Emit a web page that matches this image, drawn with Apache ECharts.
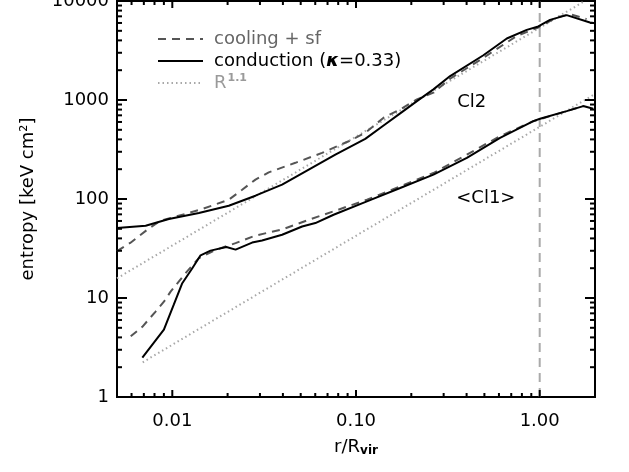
<!DOCTYPE html>
<html style="height: 100%">
<head>
<meta charset="utf-8">
<script src="https://cdn.jsdelivr.net/npm/echarts@6/dist/echarts.min.js"></script>
</head>
<body style="height: 100%; margin: 0; background: #ffffff">
<div id="container" style="width: 629px; height: 472px"></div>
<script>

// axis ranges and labels
var xRange = [0.005, 2];
var yRange = [1, 10000];
var xLabelVals = [0.01, 0.1, 1];
var yLabelVals = [1, 10, 100, 1000, 10000];
var xTickVals = [0.006, 0.007, 0.008, 0.009, 0.01, 0.02, 0.03, 0.04, 0.05, 0.06, 0.07, 0.08, 0.09,
                 0.1, 0.2, 0.3, 0.4, 0.5, 0.6, 0.7, 0.8, 0.9, 1];
var yTickVals = [2, 3, 4, 5, 6, 7, 8, 9, 10, 20, 30, 40, 50, 60, 70, 80, 90, 100,
                 200, 300, 400, 500, 600, 700, 800, 900, 1000, 2000, 3000, 4000, 5000, 6000, 7000, 8000, 9000];

// Cl2 profiles [r/Rvir, entropy]
var cl2Cond = [[0.005, 50.8], [0.00716, 53.6], [0.00958, 62.7], [0.01395, 72.1], [0.0203, 85.5], [0.02836, 108],
  [0.0396, 139.6], [0.0553, 198], [0.0772, 281], [0.1123, 405], [0.1413, 553], [0.174, 733], [0.2146, 975],
  [0.264, 1281], [0.3254, 1746], [0.4937, 2830], [0.662, 4180], [0.85, 5108], [0.9826, 5530], [1.138, 6450],
  [1.402, 7195], [1.877, 6070], [2.0, 5970]];
var cl2Cool = [[0.005, 29.8], [0.0059, 36], [0.0073, 48.9], [0.0086, 60.3], [0.0098, 64.2], [0.01456, 79.2],
  [0.0203, 98.4], [0.024, 124], [0.02836, 157], [0.0335, 186], [0.0468, 232], [0.0653, 292], [0.0912, 383],
  [0.1123, 466], [0.1413, 662], [0.174, 803], [0.2146, 1014], [0.264, 1186], [0.3254, 1644], [0.4937, 2670],
  [0.75, 4440], [0.9826, 5400], [1.237, 6820], [1.461, 7360], [1.8, 6555]];
var cl2Pow = [[0.005, 15.8], [1.76, 10000]];

// <Cl1> profiles
var cl1Cond = [[0.00687, 2.5], [0.009, 4.8], [0.0102, 8.6], [0.01133, 14.1], [0.01285, 20], [0.01425, 27],
  [0.01615, 30.1], [0.0197, 32.7], [0.0221, 30.8], [0.0272, 36.3], [0.0308, 38.1], [0.0396, 43.5], [0.0509, 52.8],
  [0.0601, 57.1], [0.0755, 69.3], [0.1147, 94.6], [0.174, 129], [0.264, 176], [0.4013, 260], [0.6083, 415],
  [0.923, 611], [1.004, 646], [1.402, 772], [1.726, 868], [1.956, 816]];
var cl1Cool = [[0.00594, 4.1], [0.00687, 5.12], [0.00811, 7.3], [0.009, 9.17], [0.00979, 11.6], [0.0118, 17.8],
  [0.01395, 25.3], [0.0172, 30.6], [0.0221, 35.8], [0.02836, 42.7], [0.0396, 49.2], [0.0553, 61.7], [0.0772, 76.1],
  [0.1147, 98.4], [0.174, 134], [0.264, 183], [0.4013, 281], [0.6083, 431], [0.923, 611], [1.402, 772], [1.726, 868]];
var cl1Pow = [[0.0069, 2.24], [2.0, 1150]];

var rvirLine = [[1, 1], [1, 10000]];
var clusterNames = ['Cl2', '<Cl1>'];
var clusterPos = [[0.427, 957], [0.509, 102]];

var FONT = 'DejaVu Sans';
var COOL = 'cooling + sf', COND = 'conduction (κ=0.33)', POW = 'R^1.1';

function isDecade(v) {
  var l = Math.log10(v);
  return Math.abs(l - Math.round(l)) < 1e-6;
}

var dom = document.getElementById('container');
var myChart = echarts.init(dom);

var coolStyle = { color: '#555555', width: 2, type: [8, 6] };
var condStyle = { color: '#000000', width: 2 };
var powStyle = { color: '#a8a8a8', width: 2, type: [1.5, 3] };

function lineSeries(name, data, style, z) {
  return {
    name: name, type: 'line', data: data, symbol: 'none', z: z,
    lineStyle: style, itemStyle: { color: style.color }, animation: false
  };
}

var option = {
  backgroundColor: '#ffffff',
  animation: false,
  grid: {
    left: 117, right: 34, top: 1, bottom: 75,
    show: true, borderColor: '#000', borderWidth: 2,
    outerBoundsMode: 'none'
  },
  legend: {
    left: 152, top: 24, orient: 'vertical',
    itemWidth: 45, itemHeight: 14, itemGap: 2,
    selectedMode: false,
    itemStyle: { opacity: 0 },
    data: [
      { name: COOL, textStyle: { color: '#666666' } },
      { name: COND, textStyle: { color: '#000000' } },
      { name: POW, textStyle: { color: '#9a9a9a' } }
    ],
    formatter: function (n) {
      if (n === POW) return 'R{s|1.1}';
      if (n === COND) return 'conduction ({k|κ}=0.33)';
      return n;
    },
    textStyle: {
      fontFamily: FONT, fontSize: 18, lineHeight: 20, padding: [0, 0, 0, 6],
      rich: {
        s: { fontFamily: FONT, fontSize: 11, fontWeight: 'bold', padding: [0, 0, 9, 1] },
        k: { fontFamily: FONT, fontSize: 18, fontStyle: 'italic', fontWeight: 'bold', color: '#000' }
      }
    }
  },
  xAxis: {
    type: 'log', min: xRange[0], max: xRange[1], logBase: 10,
    name: '{a|r/R}{b|vir}', nameLocation: 'middle', nameGap: 39,
    nameTextStyle: {
      rich: {
        a: { fontFamily: FONT, fontSize: 18, color: '#000', lineHeight: 22 },
        b: { fontFamily: FONT, fontSize: 12, fontWeight: 'bold', color: '#000', padding: [8, 0, 0, 0] }
      }
    },
    axisLine: { show: true, onZero: false, lineStyle: { color: '#000', width: 2 } },
    axisTick: { show: false },
    splitLine: { show: false },
    axisLabel: {
      customValues: xLabelVals, margin: 15,
      fontFamily: FONT, fontSize: 18, color: '#000',
      formatter: function (v) { return isDecade(v) ? v.toFixed(2) : ''; }
    }
  },
  yAxis: {
    type: 'log', min: yRange[0], max: yRange[1], logBase: 10,
    name: 'entropy [keV cm²]', nameLocation: 'middle', nameGap: 80,
    nameTextStyle: { fontFamily: FONT, fontSize: 18, color: '#000' },
    axisLine: { show: true, onZero: false, lineStyle: { color: '#000', width: 2 } },
    axisTick: { show: false },
    splitLine: { show: false },
    axisLabel: {
      customValues: yLabelVals, margin: 8, showMaxLabel: true, showMinLabel: true,
      fontFamily: FONT, fontSize: 18, color: '#000',
      formatter: function (v) { return isDecade(v) ? String(Math.round(v)) : ''; }
    }
  },
  series: [
    lineSeries('rvir', rvirLine, { color: '#aaaaaa', width: 2, type: [9, 6] }, 1),
    lineSeries(POW, cl2Pow, powStyle, 2),
    lineSeries(POW, cl1Pow, powStyle, 2),
    lineSeries(COOL, cl2Cool, coolStyle, 3),
    lineSeries(COOL, cl1Cool, coolStyle, 3),
    lineSeries(COND, cl2Cond, condStyle, 4),
    lineSeries(COND, cl1Cond, condStyle, 4),
    {
      type: 'scatter', silent: true, symbolSize: 0,
      itemStyle: { opacity: 1, color: '#000' },
      data: clusterPos.map(function (p, i) { return { value: p, name: clusterNames[i] }; }),
      label: {
        show: true, position: 'inside', formatter: '{b}', opacity: 1,
        fontFamily: FONT, fontSize: 18, color: '#000000'
      }
    },
    {
      // x ticks, bottom and top, drawn through the axis scale
      type: 'custom', silent: true, z: 6,
      data: xTickVals.map(function (v) { return [v, yRange[0]]; }),
      renderItem: function (params, api) {
        var v = api.value(0);
        var b = api.coord([v, yRange[0]]);
        var t = api.coord([v, yRange[1]]);
        var len = isDecade(v) ? 7 : 4;
        return {
          type: 'group', children: [
            { type: 'line', shape: { x1: b[0], y1: b[1], x2: b[0], y2: b[1] - len }, style: { stroke: '#000', lineWidth: 2 } },
            { type: 'line', shape: { x1: t[0], y1: t[1], x2: t[0], y2: t[1] + len }, style: { stroke: '#000', lineWidth: 2 } }
          ]
        };
      }
    },
    {
      // y ticks, left and right
      type: 'custom', silent: true, z: 6,
      data: yTickVals.map(function (v) { return [xRange[0], v]; }),
      renderItem: function (params, api) {
        var v = api.value(1);
        var l = api.coord([xRange[0], v]);
        var r = api.coord([xRange[1], v]);
        var len = isDecade(v) ? 10 : 5;
        return {
          type: 'group', children: [
            { type: 'line', shape: { x1: l[0], y1: l[1], x2: l[0] + len, y2: l[1] }, style: { stroke: '#000', lineWidth: 2 } },
            { type: 'line', shape: { x1: r[0], y1: r[1], x2: r[0] - len, y2: r[1] }, style: { stroke: '#000', lineWidth: 2 } }
          ]
        };
      }
    }
  ]
};

if (option && typeof option === 'object') {
  myChart.setOption(option);
}
</script>
</body>
</html>
